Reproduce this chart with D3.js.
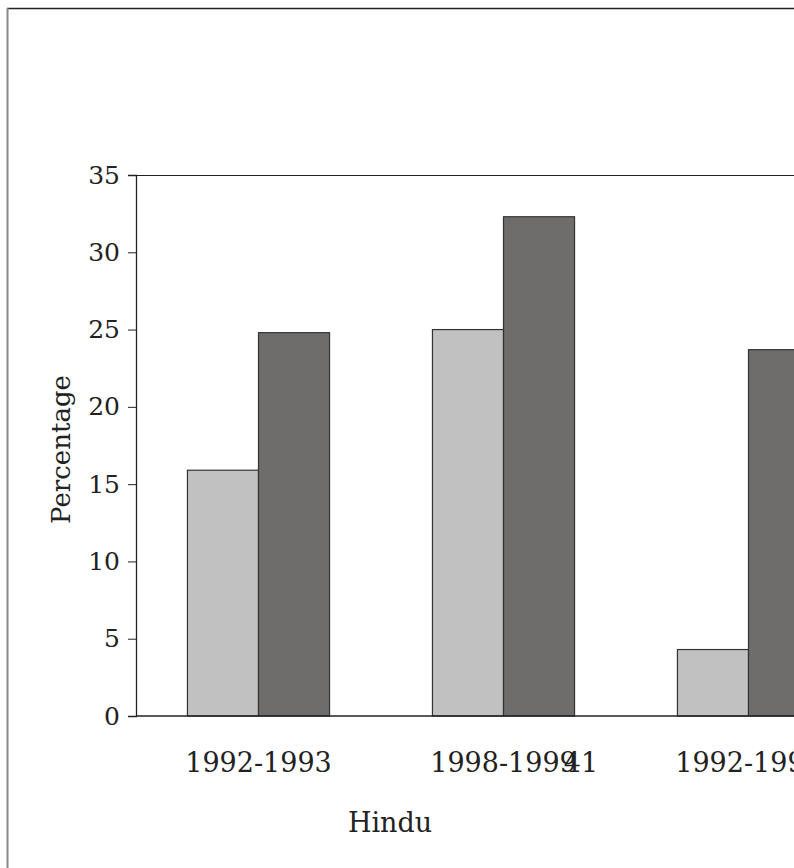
<!DOCTYPE html>
<html>
<head>
<meta charset="utf-8">
<script src="https://cdn.jsdelivr.net/npm/d3@7"></script>
<style>
  html, body { margin: 0; padding: 0; overflow: hidden; background: #fff; width: 794px; height: 868px; }
  text { font-family: 'DejaVu Serif', serif; fill: #222; }
</style>
</head>
<body>
<div id="chart"></div>
<script>
const groups = ["Hindu 1992-1993", "Hindu 1998-1999", "Muslim 1992-1993", "Muslim 1998-1999"];
const groupLabels = ["1992-1993", "1998-1999", "1992-1993", "1998-1999"];
const seriesNames = ["A", "B"];
const seriesA = [15.9, 25.0, 4.3, 8.0];
const seriesB = [24.8, 32.3, 23.7, 30.0];
const yTicks = [0, 5, 10, 15, 20, 25, 30, 35];
const yTitle = "Percentage";
const religionLabels = ["Hindu", "Muslim"];
const strayLabel = "41";

(function () {
const W = 1300, H = 1000;
const svg = d3.select("#chart").append("svg").attr("width", W).attr("height", H);

const mLeft = 136, mTop = 175, mBottom = 716, mRight = 1116;

const x0 = d3.scaleBand().domain(groups).range([mLeft, mRight]).paddingInner(0.42).paddingOuter(0.21);
const x1 = d3.scaleBand().domain(seriesNames).range([0, x0.bandwidth()]);
const y = d3.scaleLinear().domain([0, 35]).range([mBottom, mTop]);
const colors = { A: "#c1c1c1", B: "#6e6d6b" };

// outer frame
svg.append("line").attr("x1", 7).attr("x2", W).attr("y1", 8.5).attr("y2", 8.5).attr("stroke", "#222").attr("stroke-width", 1.5);
svg.append("line").attr("x1", 7.5).attr("x2", 7.5).attr("y1", 8).attr("y2", H).attr("stroke", "#888").attr("stroke-width", 2);

// plot top frame
svg.append("line").attr("x1", mLeft).attr("x2", mRight).attr("y1", mTop + 0.5).attr("y2", mTop + 0.5).attr("stroke", "#222").attr("stroke-width", 1);

// bars
const g = svg.append("g");
groups.forEach((grp, i) => {
  const vals = { A: seriesA[i], B: seriesB[i] };
  seriesNames.forEach(s => {
    g.append("rect")
      .attr("x", x0(grp) + x1(s))
      .attr("y", y(vals[s]))
      .attr("width", x1.bandwidth())
      .attr("height", y(0) - y(vals[s]))
      .attr("fill", colors[s])
      .attr("stroke", "#333")
      .attr("stroke-width", 1.2);
  });
});

// y axis
const yAxis = d3.axisLeft(y).tickValues(yTicks).tickSize(8).tickPadding(8).tickFormat(d3.format("d"));
const ya = svg.append("g").attr("transform", `translate(${mLeft},0)`).call(yAxis);
ya.select(".domain").attr("stroke", "#222").attr("stroke-width", 1.3);
ya.selectAll(".tick line").attr("stroke", "#222");
ya.selectAll(".tick text").style("font-size", "25px").style("font-family", "'DejaVu Serif', serif").attr("fill", "#222");

// x axis line
svg.append("line").attr("x1", mLeft).attr("x2", mRight).attr("y1", mBottom).attr("y2", mBottom).attr("stroke", "#222").attr("stroke-width", 1.3);

// x labels
groups.forEach((grp, i) => {
  svg.append("text")
    .attr("x", x0(grp) + x0.bandwidth() / 2)
    .attr("y", 772)
    .attr("text-anchor", "middle")
    .style("font-size", "27px")
    .text(groupLabels[i]);
});

// stray label
svg.append("text").attr("x", 581).attr("y", 772).attr("text-anchor", "middle").style("font-size", "27px").text(strayLabel);

// religion labels
svg.append("text").attr("x", 390).attr("y", 832).attr("text-anchor", "middle").style("font-size", "27px").text(religionLabels[0]);
svg.append("text").attr("x", (x0(groups[2]) + x0(groups[3]) + x0.bandwidth()) / 2).attr("y", 832).attr("text-anchor", "middle").style("font-size", "27px").text(religionLabels[1]);

// y title
svg.append("text")
  .attr("transform", `translate(70, ${(mTop + mBottom) / 2 + 4}) rotate(-90)`)
  .attr("text-anchor", "middle")
  .style("font-size", "26px")
  .text(yTitle);
})();
</script>
</body>
</html>
